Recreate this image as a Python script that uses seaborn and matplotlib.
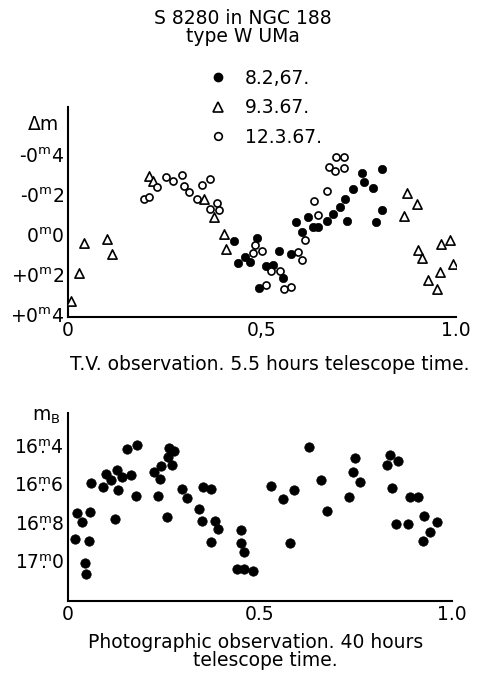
import numpy as np
import pandas as pd
import matplotlib
matplotlib.use('Agg')
import matplotlib.pyplot as plt
import seaborn as sns
from matplotlib.lines import Line2D

# ---- Top panel: T.V. observation (phase, delta m) ----
phase_0802 = [0.429, 0.439, 0.456, 0.470, 0.486, 0.491, 0.510, 0.521, 0.529, 0.544,
              0.555, 0.574, 0.588, 0.602, 0.619, 0.631, 0.645, 0.668, 0.684, 0.700,
              0.714, 0.718, 0.735, 0.758, 0.763, 0.787, 0.794, 0.810, 0.810]
dm_0802 = [0.030, 0.138, 0.108, 0.135, 0.016, 0.264, 0.153, 0.158, 0.150, 0.080,
           0.215, 0.096, -0.066, -0.013, -0.090, -0.038, -0.038, -0.070, -0.105, -0.141,
           -0.178, -0.071, -0.232, -0.308, -0.263, -0.233, -0.065, -0.328, -0.125]

phase_0903 = [0.007, 0.028, 0.041, 0.101, 0.114, 0.208, 0.218, 0.351, 0.377, 0.402,
              0.408, 0.873, 0.899, 0.866, 0.903, 0.913, 0.927, 0.950, 0.959, 0.961,
              0.985, 0.993]
dm_0903 = [0.329, 0.191, 0.038, 0.018, 0.095, -0.294, -0.269, -0.178, -0.091, -0.005,
           0.070, -0.208, -0.155, -0.096, 0.075, 0.116, 0.225, 0.271, 0.183, 0.046,
           0.025, 0.146]

phase_1203 = [0.196, 0.209, 0.230, 0.253, 0.271, 0.294, 0.298, 0.313, 0.332, 0.345,
              0.366, 0.366, 0.385, 0.389, 0.482, 0.478, 0.500, 0.510, 0.523, 0.546,
              0.557, 0.575, 0.594, 0.602, 0.612, 0.635, 0.645, 0.667, 0.673, 0.689,
              0.691, 0.710, 0.712]
dm_1203 = [-0.178, -0.191, -0.238, -0.289, -0.269, -0.298, -0.245, -0.216, -0.181, -0.251,
           -0.278, -0.130, -0.161, -0.125, 0.050, 0.091, 0.079, 0.250, 0.180, 0.179,
           0.272, 0.260, 0.083, 0.123, 0.027, -0.170, -0.102, -0.221, -0.338, -0.321,
           -0.391, -0.391, -0.335]

# ---- Bottom panel: photographic observation (phase, m_B) ----
phase_pg = [0.018, 0.024, 0.037, 0.044, 0.047, 0.056, 0.055, 0.060, 0.092, 0.099,
            0.111, 0.122, 0.128, 0.131, 0.142, 0.155, 0.164, 0.176, 0.179, 0.225,
            0.234, 0.240, 0.242, 0.259, 0.261, 0.263, 0.270, 0.277, 0.296, 0.309,
            0.341, 0.348, 0.351, 0.373, 0.373, 0.383, 0.392, 0.440, 0.459, 0.483,
            0.451, 0.450, 0.459, 0.528, 0.561, 0.579, 0.589, 0.629, 0.659, 0.674,
            0.732, 0.744, 0.749, 0.760, 0.832, 0.839, 0.860, 0.844, 0.854, 0.886,
            0.891, 0.913, 0.928, 0.926, 0.943, 0.961]
mB_pg = [16.882, 16.749, 16.796, 17.008, 17.067, 16.742, 16.896, 16.591, 16.612, 16.543,
         16.574, 16.780, 16.522, 16.627, 16.557, 16.413, 16.549, 16.656, 16.392, 16.534,
         16.660, 16.569, 16.501, 16.767, 16.455, 16.408, 16.494, 16.422, 16.621, 16.670,
         16.725, 16.788, 16.609, 16.623, 16.899, 16.788, 16.830, 17.043, 17.043, 17.050,
         16.836, 16.903, 16.954, 16.606, 16.674, 16.906, 16.627, 16.399, 16.574, 16.735,
         16.662, 16.530, 16.460, 16.583, 16.495, 16.443, 16.476, 16.614, 16.805, 16.805,
         16.663, 16.663, 16.763, 16.893, 16.845, 16.793]

series_labels = ['8.2,67.', '9.3.67.', '12.3.67.']
top_yticks = [-0.4, -0.2, 0.0, 0.2, 0.4]
top_yticklabels = [r'-0$^{\mathrm{m}}$4', r'-0$^{\mathrm{m}}$2', r'0$^{\mathrm{m}}$0',
                   r'+0$^{\mathrm{m}}$2', r'+0$^{\mathrm{m}}$4']
top_xticklabels = ['0', '0,5', '1.0']
bot_yticks = [16.4, 16.6, 16.8, 17.0]
bot_yticklabels = [r'$16\overset{\mathrm{m}}{.}4$', r'$16\overset{\mathrm{m}}{.}6$',
                   r'$16\overset{\mathrm{m}}{.}8$', r'$17\overset{\mathrm{m}}{.}0$']
bot_xticklabels = ['0', '0.5', '1.0']

sns.set_theme(style='white')
plt.rcParams['font.family'] = ['DejaVu Sans']
plt.rcParams['mathtext.default'] = 'regular'
plt.rcParams['text.color'] = 'black'
plt.rcParams['axes.labelcolor'] = 'black'

FS = 13.5

fig = plt.figure(figsize=(4.81, 6.79), dpi=100)
ax1 = fig.add_axes([0.1414, 0.5331, 0.8067, 0.3093])
ax2 = fig.add_axes([0.1414, 0.1149, 0.7977, 0.2769])

df1 = pd.DataFrame({'phase': phase_0802, 'dm': dm_0802})
df2 = pd.DataFrame({'phase': phase_0903, 'dm': dm_0903})
df3 = pd.DataFrame({'phase': phase_1203, 'dm': dm_1203})
df4 = pd.DataFrame({'phase': phase_pg, 'mB': mB_pg})

sns.scatterplot(data=df1, x='phase', y='dm', ax=ax1, marker='o', s=36,
                color='black', edgecolor='black', linewidth=0.5, zorder=3)
sns.scatterplot(data=df2, x='phase', y='dm', ax=ax1, marker='^', s=44,
                facecolor='white', edgecolor='black', linewidth=1.2, zorder=3)
sns.scatterplot(data=df3, x='phase', y='dm', ax=ax1, marker='o', s=26,
                facecolor='white', edgecolor='black', linewidth=1.2, zorder=3)
sns.scatterplot(data=df4, x='phase', y='mB', ax=ax2, marker='o', s=46,
                color='black', edgecolor='black', linewidth=0.5, zorder=3)

for ax in (ax1, ax2):
    for side in ('top', 'right'):
        ax.spines[side].set_visible(False)
    for side in ('left', 'bottom'):
        ax.spines[side].set_color('black')
        ax.spines[side].set_linewidth(1.5)
    ax.set_xlabel('')
    ax.set_ylabel('')
    ax.set_xlim(0, 1.0)
    ax.tick_params(direction='in', length=4, width=1.2, colors='black',
                   labelsize=FS, pad=3)
    ax.set_xticks([0, 0.5, 1.0])

ax1.set_ylim(0.41, -0.64)
ax1.set_yticks(top_yticks)
ax1.set_yticklabels(top_yticklabels)
ax1.set_xticklabels(top_xticklabels)

ax2.set_ylim(17.209, 16.222)
ax2.set_yticks(bot_yticks)
ax2.set_yticklabels(bot_yticklabels)
ax2.set_xticklabels(bot_xticklabels)

fig.text(0.505, 1 - 18 / 679, 'S 8280 in NGC 188', ha='center', va='center', fontsize=FS)
fig.text(0.505, 1 - 37 / 679, 'type W UMa', ha='center', va='center', fontsize=FS)

fig.text(43 / 481, 1 - 124 / 679, 'Δm', ha='center', va='center', fontsize=FS)
fig.text(46 / 481, 1 - 416 / 679, r'$m_B$', ha='center', va='center', fontsize=FS)

fig.text(270 / 481, 1 - 364 / 679, 'T.V. observation. 5.5 hours telescope time.',
         ha='center', va='center', fontsize=FS)
fig.text(256 / 481, 1 - 642 / 679, 'Photographic observation. 40 hours',
         ha='center', va='center', fontsize=FS)
fig.text(265 / 481, 1 - 661 / 679, 'telescope time.',
         ha='center', va='center', fontsize=FS)

handles = [
    Line2D([], [], linestyle='none', marker='o', markersize=6, color='black'),
    Line2D([], [], linestyle='none', marker='^', markersize=6.5, markerfacecolor='white',
           markeredgecolor='black', markeredgewidth=1.2),
    Line2D([], [], linestyle='none', marker='o', markersize=5.5, markerfacecolor='white',
           markeredgecolor='black', markeredgewidth=1.2),
]
fig.legend(handles, series_labels, loc='upper left', bbox_to_anchor=(209 / 481, 1 - 69 / 679),
           frameon=False, fontsize=FS, labelspacing=0.55, handlelength=1.0,
           handletextpad=0.9, borderpad=0, borderaxespad=0)

fig.savefig('out.png', dpi=100)
